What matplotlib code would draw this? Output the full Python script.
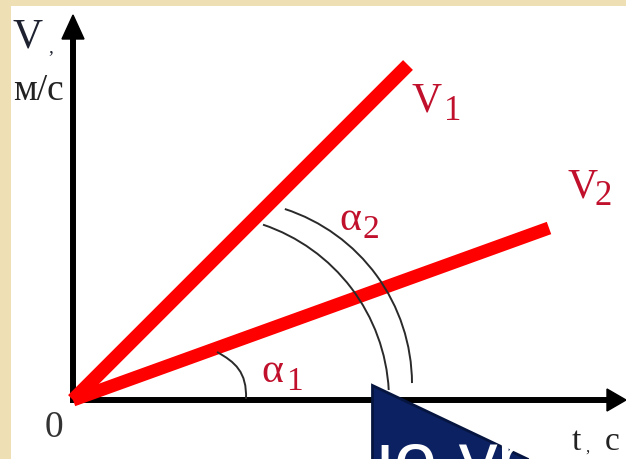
import matplotlib
matplotlib.use('Agg')
import matplotlib.pyplot as plt
from matplotlib.patches import Arc, Polygon, Rectangle, PathPatch
from matplotlib.path import Path

# ---- data (pixel-like units, origin at the axes crossing) ----
series_labels = ['V', 'V']
series_subs = ['1', '2']
t_end = [335, 476]          # end point of each velocity line (t)
v_end = [335, 172]          # end point of each velocity line (V)
line_widths = [10.0, 9.4]

# angle alpha2: two circular arcs (centre x, centre y, radius, theta1, theta2)
arc2_cx = [131, 155]
arc2_cy = [0, 16]
arc2_r = [185, 184]
arc2_t1 = [3.1, 0.3]
arc2_t2 = [71.4, 72.0]

# angle alpha1: hand-drawn curve control points
arc1_x = [144, 162, 174, 173]
arc1_y = [48, 38, 28, 1]

RED = '#ff0000'
TXT_RED = '#c0102c'
SERIF = ['Liberation Serif', 'DejaVu Serif']

fig = plt.figure(figsize=(6.26, 4.59), dpi=100)
fig.patch.set_facecolor('#efdfb4')

ax = fig.add_axes([0, 0, 1, 1])
ax.set_xlim(-73, 553)
ax.set_ylim(-59, 400)
ax.axis('off')
ax.add_patch(Rectangle((11 / 626, 0), 615 / 626, 453 / 459,
                       transform=fig.transFigure, facecolor='white',
                       edgecolor='none', zorder=0, clip_on=False))

# axes with arrows
ax.plot([0, 0], [-2, 365], color='black', lw=4.3, solid_capstyle='butt', zorder=3)
ax.add_patch(Polygon([[-11, 361], [11, 361], [0, 385]], closed=True,
                     color='black', zorder=3))
ax.plot([-3, 536], [0, 0], color='black', lw=4.3, solid_capstyle='butt', zorder=3)
ax.add_patch(Polygon([[534, 11], [534, -11], [553, 0]], closed=True,
                     color='black', zorder=3))

# velocity lines
for te, ve, lw in zip(t_end, v_end, line_widths):
    ax.plot([0, te], [0, ve], color=RED, lw=lw, solid_capstyle='butt', zorder=4)

# angle arcs
for cx, cy, r, t1, t2 in zip(arc2_cx, arc2_cy, arc2_r, arc2_t1, arc2_t2):
    ax.add_patch(Arc((cx, cy), 2 * r, 2 * r, theta1=t1, theta2=t2,
                     color='#2a2a2a', lw=1.4, zorder=5))
path = Path(list(zip(arc1_x, arc1_y)),
            [Path.MOVETO, Path.CURVE4, Path.CURVE4, Path.CURVE4])
ax.add_patch(PathPatch(path, facecolor='none', edgecolor='#2a2a2a', lw=1.4, zorder=5))

# axis labels
ax.text(-60, 352, 'V', fontsize=30, family=SERIF, color='#1e2230')
ax.text(-25, 348, ',', fontsize=14, family=SERIF, color='#1e2230')
ax.text(-60, 300, 'м/с', fontsize=27, family=SERIF, color='#222222')
ax.text(-28, -37, '0', fontsize=27, family=SERIF, color='#333333')
ax.text(499, -50, 't', fontsize=24, family=SERIF, color='#222222')
ax.text(512, -52, ',', fontsize=12, family=SERIF, color='#222222')
ax.text(532, -50, 'c', fontsize=24, family=SERIF, color='#222222')

# line labels
lab_pos = [(339, 288, 371, 280), (494, 202, 522, 195)]
for name, sub, (vx, vy, sx, sy) in zip(series_labels, series_subs, lab_pos):
    ax.text(vx, vy, name, fontsize=30, family=SERIF, color=TXT_RED)
    ax.text(sx, sy, sub, fontsize=25, family=SERIF, color=TXT_RED)

# angle labels
ax.text(266, 170, 'α', fontsize=30, family=SERIF, color=TXT_RED)
ax.text(289, 162, '2', fontsize=24, family=SERIF, color=TXT_RED)
ax.text(188, 18, 'α', fontsize=30, family=SERIF, color=TXT_RED)
ax.text(213, 10, '1', fontsize=24, family=SERIF, color=TXT_RED)

# overlapping navy shape and white text at the bottom
ax.add_patch(Polygon([[299, 15], [299, -70], [478, -70]], closed=True,
                     facecolor='#0b2162', edgecolor='#061540', lw=2,
                     zorder=8, clip_on=False))
ax.text(278, -86, 'но ур', fontsize=56, family=['Liberation Sans', 'DejaVu Sans'],
        color='white', zorder=9)

fig.savefig('out.png', dpi=100)
